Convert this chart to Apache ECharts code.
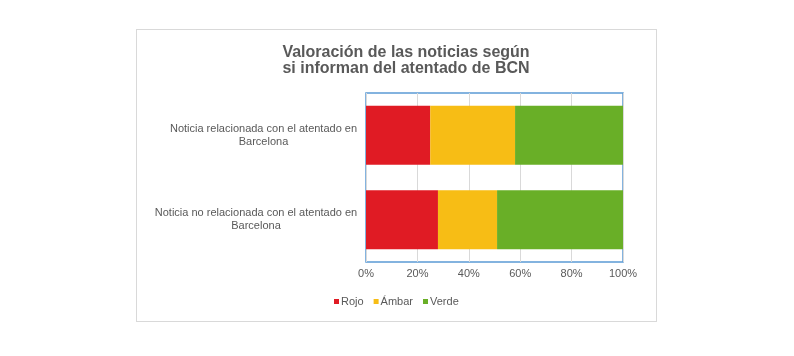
<!DOCTYPE html>
<html>
<head>
<meta charset="utf-8">
<script src="https://cdn.jsdelivr.net/npm/echarts@6/dist/echarts.min.js"></script>
<style>
html,body{margin:0;padding:0;background:#fff;}
#frame{position:absolute;left:136px;top:29px;width:519px;height:291px;border:1px solid #d9d9d9;background:#fff;}
#chart{width:519px;height:291px;}
</style>
</head>
<body>
<div id="frame"><div id="chart"></div></div>
<script>
var categories = ['Noticia no relacionada con el atentado en\nBarcelona', 'Noticia relacionada con el atentado en\nBarcelona'];
var rojo = [28, 25];
var ambar = [23, 33];
var verde = [49, 42];
var xTicks = ['0%', '20%', '40%', '60%', '80%', '100%'];

var font = '11px "Liberation Sans", Arial, sans-serif';
var cv = document.createElement('canvas').getContext('2d');
cv.font = font;
var rich = {};
categories.forEach(function (c, i) {
  var first = c.split('\n')[0];
  var w = Math.ceil(cv.measureText(first).width) + 1;
  rich['t' + i] = { width: w, align: 'center', fontSize: 11, color: '#595959', fontFamily: '"Liberation Sans", Arial, sans-serif', lineHeight: 13 };
});

var chart = echarts.init(document.getElementById('chart'));
chart.setOption({
  animation: false,
  color: ['#e01b24', '#f7bd15', '#69af27'],
  title: {
    text: 'Valoración de las noticias según\nsi informan del atentado de BCN',
    left: 264, top: 10, textAlign: 'center',
    textStyle: { fontFamily: '"Liberation Sans", Arial, sans-serif', fontSize: 16, fontWeight: 'bold', color: '#595959', lineHeight: 16 }
  },
  grid: { left: 229, right: 33, top: 63, bottom: 59, show: true, borderColor: '#5b9bd5', borderWidth: 1.5, containLabel: false },
  legend: {
    data: ['Rojo', 'Ámbar', 'Verde'],
    left: 192, top: 261, itemWidth: 5, itemHeight: 5, itemGap: 10,
    icon: 'rect',
    textStyle: { fontFamily: '"Liberation Sans", Arial, sans-serif', fontSize: 11, color: '#595959', padding: [0, 0, 0, -3] }
  },
  xAxis: {
    type: 'value', min: 0, max: 100, interval: 20,
    axisLine: { show: false }, axisTick: { show: false },
    splitLine: { lineStyle: { color: '#d9d9d9' } },
    axisLabel: {
      margin: 6, color: '#595959', fontSize: 11, fontFamily: '"Liberation Sans", Arial, sans-serif',
      formatter: function (v) { return xTicks[Math.round(v / 20)]; }
    }
  },
  yAxis: {
    type: 'category', data: categories,
    axisLine: { show: false }, axisTick: { show: false },
    axisLabel: {
      margin: 8, align: 'right',
      formatter: function (v, i) {
        var parts = v.split('\n');
        return parts.map(function (p) { return '{t' + i + '|' + p + '}'; }).join('\n');
      },
      rich: rich
    }
  },
  series: [
    { name: 'Rojo', type: 'bar', stack: 's', data: rojo, barCategoryGap: '30%' },
    { name: 'Ámbar', type: 'bar', stack: 's', data: ambar },
    { name: 'Verde', type: 'bar', stack: 's', data: verde }
  ]
});
</script>
</body>
</html>
